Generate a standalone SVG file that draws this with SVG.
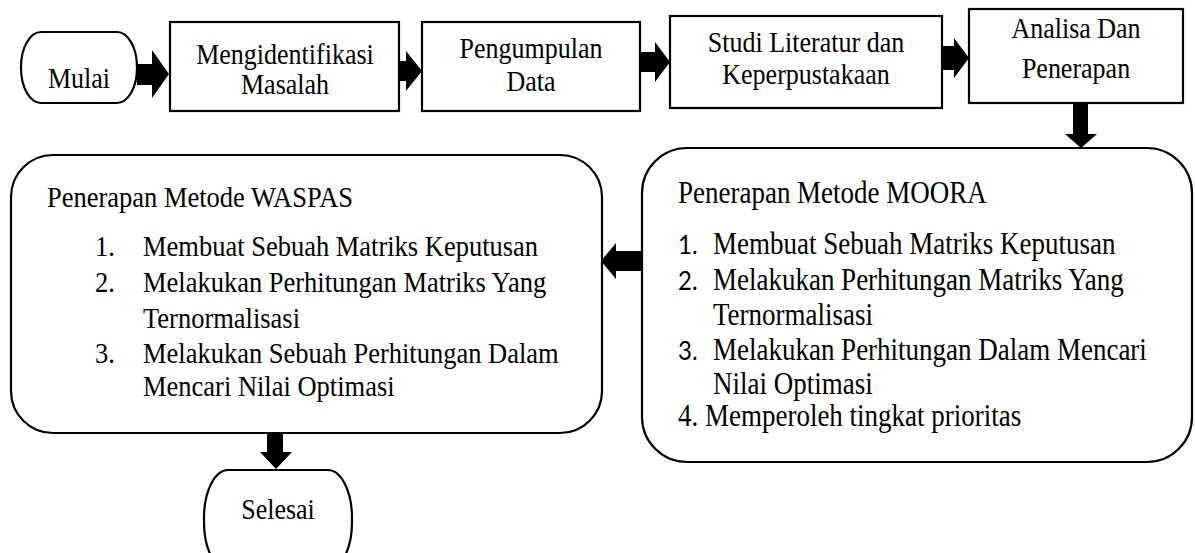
<svg xmlns="http://www.w3.org/2000/svg" width="1195" height="553" viewBox="0 0 1195 553">
<style>
.box{fill:#fff;stroke:#000;stroke-width:2.2}
.t{font-family:"Liberation Serif","Times New Roman",serif;font-size:26px;fill:#000}
.c{text-anchor:middle}
.w{font-size:26.5px}
.m{font-size:27px}
.n{font-family:Lato,"Liberation Sans",sans-serif;font-size:24px}
.arr{fill:#000;stroke:none}
</style>
<rect width="1195" height="553" fill="#fff"/>
<g id="connectors">
<polygon class="arr" points="137,64 152,64 152,50 169,74 152,98 152,85 137,85"/>
<polygon class="arr" points="399,61 406,61 406,51 422,71 406,91 406,81 399,81"/>
<polygon class="arr" points="640,52 655,52 655,42 670,62 655,82 655,72 640,72"/>
<polygon class="arr" points="942,46 954,46 954,38 969,58 954,78 954,70 942,70"/>
<polygon class="arr" points="1073,104 1088,104 1088,134 1097,134 1081,148 1065,134 1073,134"/>
<polygon class="arr" points="642,251 616,251 616,243 601,261 616,279 616,271 642,271"/>
<polygon class="arr" points="267,434 283,434 283,452 292,452 276,469 260,452 267,452"/>
</g>
<g id="mulai">
<rect class="box" x="21" y="32" width="116" height="71" rx="20" ry="35"/>
<text class="t c" transform="translate(79,88) scale(1,1.15)">Mulai</text>
</g>
<g id="mengidentifikasi">
<rect class="box" x="170" y="22" width="229" height="89"/>
<text class="t c" transform="translate(285,64) scale(1,1.12)">Mengidentifikasi</text>
<text class="t c" transform="translate(285,94) scale(1,1.12)">Masalah</text>
</g>
<g id="pengumpulan">
<rect class="box" x="422" y="22" width="218" height="89"/>
<text class="t c" transform="translate(531,58) scale(1,1.12)">Pengumpulan</text>
<text class="t c" transform="translate(531,91) scale(1,1.12)">Data</text>
</g>
<g id="studi">
<rect class="box" x="670" y="16" width="272" height="92"/>
<text class="t c" transform="translate(806,52) scale(1,1.12)">Studi Literatur dan</text>
<text class="t c" transform="translate(806,84) scale(1,1.12)">Keperpustakaan</text>
</g>
<g id="analisa">
<rect class="box" x="969" y="9" width="214" height="94"/>
<text class="t c" transform="translate(1076,38) scale(1,1.12)">Analisa Dan</text>
<text class="t c" transform="translate(1076,78) scale(1,1.12)">Penerapan</text>
</g>
<g id="moora">
<rect class="box" x="642" y="148" width="550" height="314" rx="45" ry="45"/>
<text class="t m" transform="translate(678,203) scale(1,1.15)">Penerapan Metode MOORA</text>
<text class="t m" transform="translate(0,254) scale(1,1.15)"><tspan class="n" x="678">1.</tspan><tspan x="713">Membuat Sebuah Matriks Keputusan</tspan></text>
<text class="t m" transform="translate(0,290) scale(1,1.15)"><tspan class="n" x="678">2.</tspan><tspan x="713">Melakukan Perhitungan Matriks Yang</tspan></text>
<text class="t m" transform="translate(713,325) scale(1,1.15)">Ternormalisasi</text>
<text class="t m" transform="translate(0,360) scale(1,1.15)"><tspan class="n" x="678">3.</tspan><tspan x="713">Melakukan Perhitungan Dalam Mencari</tspan></text>
<text class="t m" transform="translate(713,394) scale(1,1.15)">Nilai Optimasi</text>
<text class="t m" transform="translate(678,426) scale(1,1.15)">4. Memperoleh tingkat prioritas</text>
</g>
<g id="waspas">
<rect class="box" x="11" y="155" width="591" height="278" rx="42" ry="42"/>
<text class="t w" transform="translate(47,207) scale(1,1.15)">Penerapan Metode WASPAS</text>
<text class="t w" transform="translate(0,256) scale(1,1.15)"><tspan x="95">1.</tspan><tspan x="143">Membuat Sebuah Matriks Keputusan</tspan></text>
<text class="t w" transform="translate(0,292) scale(1,1.15)"><tspan x="95">2.</tspan><tspan x="143">Melakukan Perhitungan Matriks Yang</tspan></text>
<text class="t w" transform="translate(143,328) scale(1,1.15)">Ternormalisasi</text>
<text class="t w" transform="translate(0,363) scale(1,1.15)"><tspan x="95">3.</tspan><tspan x="143">Melakukan Sebuah Perhitungan Dalam</tspan></text>
<text class="t w" transform="translate(143,396) scale(1,1.15)">Mencari Nilai Optimasi</text>
</g>
<g id="selesai">
<rect class="box" x="204" y="470" width="148" height="100" rx="24" ry="48"/>
<text class="t c" transform="translate(278,519) scale(1,1.15)">Selesai</text>
</g>
</svg>
